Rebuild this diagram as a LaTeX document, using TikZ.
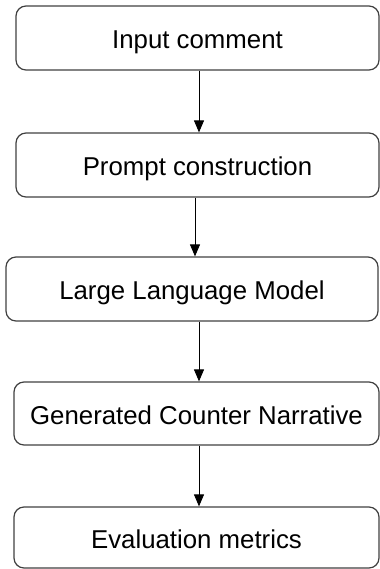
\documentclass[tikz,border=0pt]{standalone}
\usepackage{fontspec}
\setmainfont{Liberation Sans}
\usetikzlibrary{arrows.meta}
\tikzset{
  stage/.style={draw=black!75, line width=0.6pt, rounded corners=5pt, minimum height=32pt, font=\fontsize{12.9}{15}\selectfont, inner sep=0pt, text height=11pt, text depth=0.5pt},
  flow/.style={line width=0.5pt, -{Triangle[width=5pt,length=6pt]}}
}
\begin{document}
\begin{tikzpicture}[x=0.5pt, y=-0.5pt]
\useasboundingbox (0,0) rectangle (380,569);
\node[stage, minimum width=181.5pt] (input) at (197.5,38) {Input comment};
\node[stage, minimum width=181.5pt] (prompt) at (197.5,165) {Prompt construction};
\node[stage, minimum width=186pt] (llm) at (192,289) {Large Language Model};
\node[stage, minimum width=182.5pt, minimum height=31.5pt] (gen) at (196.5,413.5) {Generated Counter Narrative};
\node[stage, minimum width=182.5pt, minimum height=30.5pt] (eval) at (196.5,537.5) {Evaluation metrics};
\draw[flow] (input.south -| 199,0) -- (prompt.north -| 199,0);
\draw[flow] (prompt.south -| 195,0) -- (llm.north -| 195,0);
\draw[flow] (llm.south -| 199,0) -- (gen.north -| 199,0);
\draw[flow] (gen.south -| 199,0) -- (eval.north -| 199,0);
\end{tikzpicture}
\end{document}
